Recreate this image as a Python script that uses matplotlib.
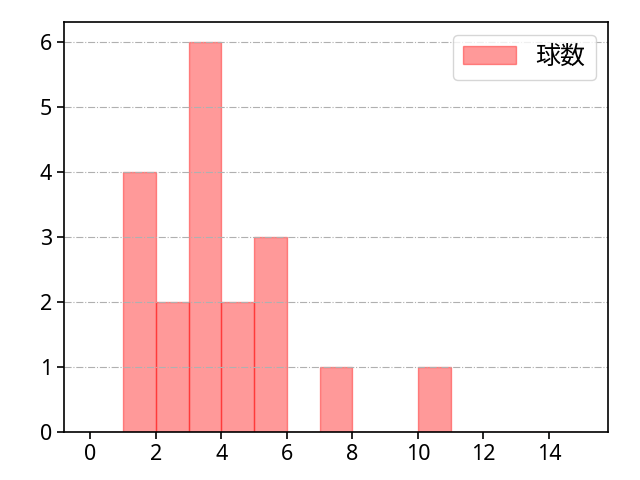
import matplotlib
matplotlib.use("Agg")
import matplotlib.pyplot as plt
import numpy as np

plt.rcParams['font.family'] = ['Noto Sans', 'Noto Sans CJK JP', 'DejaVu Sans']

# === Data ===
bin_edges = list(range(0, 16))
counts = [0, 4, 2, 6, 2, 3, 0, 1, 0, 0, 1, 0, 0, 0, 0]
label = "球数"

fig, ax = plt.subplots(figsize=(6.4, 4.8), dpi=100)
ax.hist(bin_edges[:-1], bins=bin_edges, weights=counts,
        color='red', edgecolor='red', linewidth=1, alpha=0.4, label=label)

ax.set_xlim(-0.8, 15.8)
ax.set_ylim(0, 6.3)
ax.set_xticks(np.arange(0, 16, 2))
ax.yaxis.grid(True, linestyle='-.', color='#b0b0b0', linewidth=0.8)
for sp in ax.spines.values():
    sp.set_linewidth(1.2)
ax.tick_params(labelsize=15.5, width=1.2, length=5)
ax.legend(fontsize=18, loc='upper right', handlelength=2.1, handletextpad=0.8)

fig.subplots_adjust(left=0.1, right=0.95, top=0.954, bottom=0.1)
fig.savefig("out.png")
